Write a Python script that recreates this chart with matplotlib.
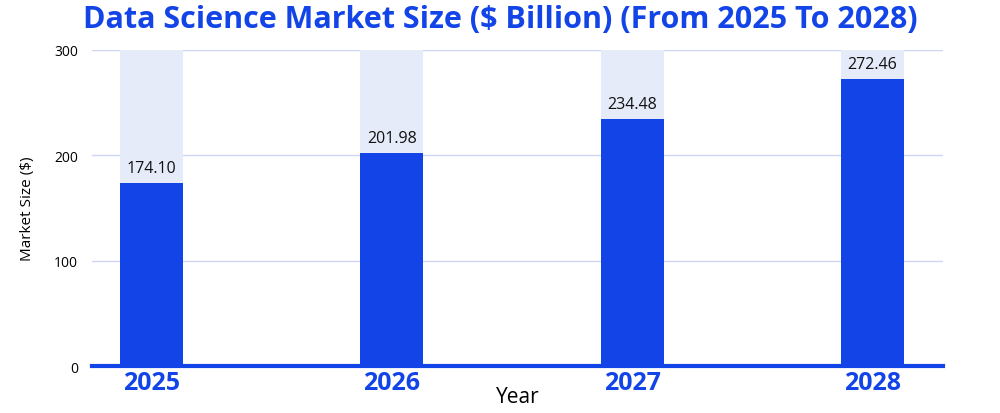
import numpy as np
import matplotlib.pyplot as plt

# data
years = ['2025', '2026', '2027', '2028']
market_size = [174.10, 201.98, 234.48, 272.46]
y_max = 300
y_ticks = [0, 100, 200, 300]

blue = '#1244e8'
pale = '#e6ebfa'

plt.rcParams['font.family'] = ['Open Sans', 'DejaVu Sans']

fig = plt.figure(figsize=(10, 4.14), dpi=100)
ax = fig.add_axes([0.092, 0.113, 0.851, 0.764])

x = np.arange(len(years))
w = 0.2625
ax.bar(x, [y_max] * len(years), width=w, color=pale, zorder=1)
ax.bar(x, market_size, width=w, color=blue, zorder=2)
for xi, v in zip(x, market_size):
    ax.annotate('%.2f' % v, (xi, v), xytext=(0, 5), textcoords='offset points',
                ha='center', va='bottom', fontsize=11.5, color='#111111', zorder=3)

ax.set_xlim(-0.248, 3.294)
ax.set_ylim(0, y_max)
ax.set_yticks(y_ticks)
ax.set_xticks(x)
ax.set_xticklabels(years, color=blue, fontsize=18, fontweight='bold')
ax.tick_params(axis='y', length=0, labelsize=10, pad=10)
ax.tick_params(axis='x', length=0, pad=3)
ax.grid(axis='y', color='#cdd6f5', linewidth=1, zorder=0)
ax.set_axisbelow(True)
for s in ['top', 'right', 'left']:
    ax.spines[s].set_visible(False)
ax.spines['bottom'].set_color(blue)
ax.spines['bottom'].set_linewidth(3)
ax.spines['bottom'].set_zorder(4)

ax.set_xlabel('Year', fontsize=15, labelpad=-7)
ax.set_ylabel('Market Size ($)', fontsize=11, labelpad=14)
fig.text(0.5, 0.952, 'Data Science Market Size ($ Billion) (From 2025 To 2028)',
         color=blue, fontsize=22, fontweight='bold', ha='center', va='center')

fig.savefig('out.png', dpi=100)
